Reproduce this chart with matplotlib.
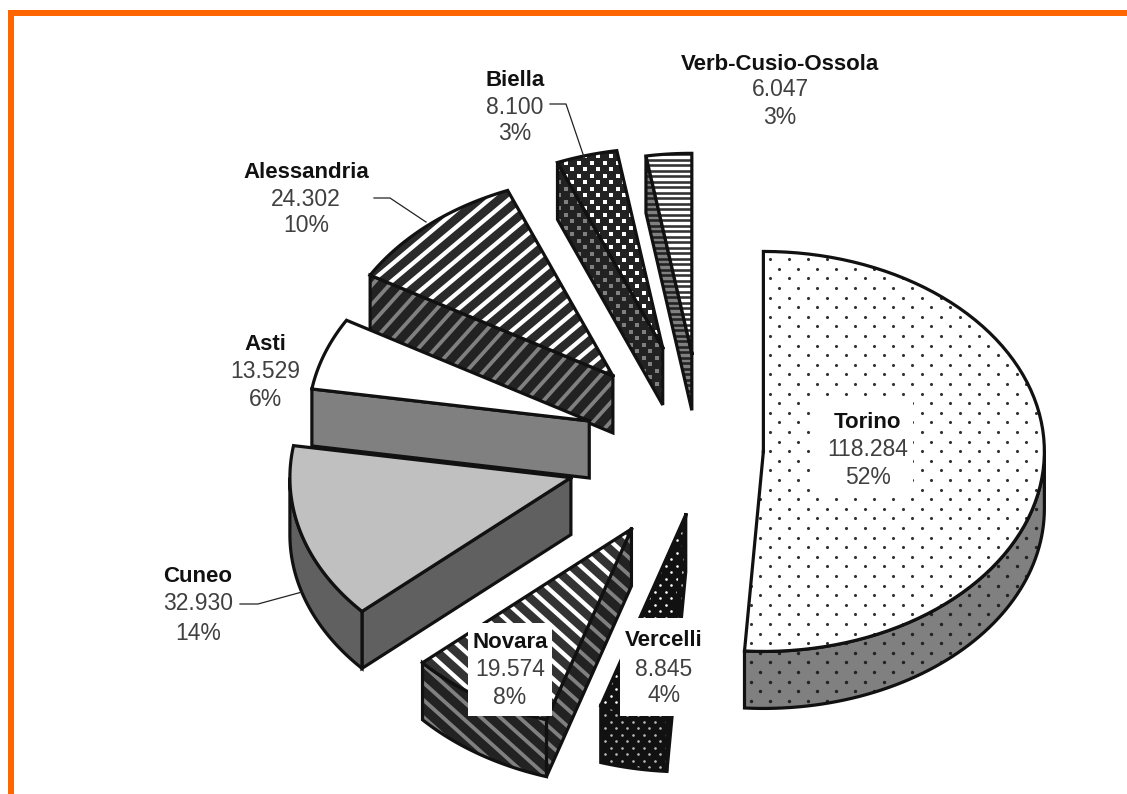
import numpy as np
import matplotlib
matplotlib.use('Agg')
import matplotlib.pyplot as plt
from matplotlib.collections import LineCollection
from matplotlib.patches import Rectangle

province = ['Torino', 'Vercelli', 'Novara', 'Cuneo', 'Asti', 'Alessandria', 'Biella', 'Verb-Cusio-Ossola']
abitanti = [118284, 8845, 19574, 32930, 13529, 24302, 8100, 6047]
valori_txt = ['118.284', '8.845', '19.574', '32.930', '13.529', '24.302', '8.100', '6.047']
percent_txt = ['52%', '4%', '8%', '14%', '6%', '10%', '3%', '3%']
explode = [0.215, 0.33, 0.47, 0.49, 0.43, 0.49, 0.53, 0.485]

# pie geometry, in pixels
cx, cy = 703, 450
rx, ry = 281, 200
depth = 57

plt.rcParams['font.family'] = ['Liberation Sans', 'DejaVu Sans']

W, H = 1127, 794
fig = plt.figure(figsize=(W / 100, H / 100), dpi=100)
ax = fig.add_axes([0, 0, 1, 1])
ax.set_xlim(0, W)
ax.set_ylim(H, 0)
ax.axis('off')


def pt(a, ox, oy):
    t = np.radians(a)
    return ox + rx * np.sin(t), oy - ry * np.cos(t)


def stripes(poly, angle, period, width, color, z):
    # parallel lines over the whole figure, clipped on the polygon
    t = np.radians(angle)
    d = np.array([np.cos(t), -np.sin(t)])
    n = np.array([np.sin(t), np.cos(t)])
    segs = []
    for k in range(-200, 200):
        c = n * k * period
        segs.append([c - d * 2000, c + d * 2000])
    lc = LineCollection(segs, colors=color, linewidths=width * 0.72, capstyle='butt', zorder=z)
    ax.add_collection(lc)
    lc.set_clip_path(poly)


def dots(poly, dx, dy, size, color, marker, z):
    # staggered grid, clipped on the polygon
    xs, ys = [], []
    for j in range(int(H / dy) + 2):
        for i in range(int(W / dx) + 2):
            xs.append(i * dx + (dx / 2 if j % 2 else 0))
            ys.append(j * dy)
    sc = ax.scatter(xs, ys, s=size, c=color, marker=marker, linewidths=0, zorder=z)
    sc.set_clip_path(poly)


def riempi(xs, ys, base, pattern, z):
    poly = ax.fill(xs, ys, facecolor=base, edgecolor='none', zorder=z)[0]
    if pattern:
        pattern[0](poly, *pattern[1:], z + 0.1)
    ax.plot(list(xs) + [xs[0]], list(ys) + [ys[0]], color='#111111', lw=2.3,
            solid_joinstyle='miter', zorder=z + 0.2)


# base colour and pattern of top face and walls
top_style = [
    ('white', (dots, 19, 9.6, 5, '#333333', 'o')),
    ('#111111', (dots, 11, 6.5, 3.5, 'white', 'o')),
    ('white', (stripes, -42, 12.8, 8.5, '#333333')),
    ('#c0c0c0', None),
    ('white', None),
    ('white', (stripes, 40, 12.8, 8.5, '#2a2a2a')),
    ('#222222', (dots, 13, 6.5, 9, 'white', 's')),
    ('white', (stripes, 0, 5.5, 2.6, '#333333')),
]
wall_style = [
    ('#808080', (dots, 19, 9.6, 6, '#222222', 'o')),
    ('#111111', (dots, 11, 6.5, 3.5, '#bbbbbb', 'o')),
    ('#808080', (stripes, -42, 12.8, 9, '#222222')),
    ('#606060', None),
    ('#808080', None),
    ('#808080', (stripes, 48, 12.8, 9, '#222222')),
    ('#222222', (dots, 13, 6.5, 9, '#808080', 's')),
    ('#808080', (stripes, 0, 5.5, 2.6, '#222222')),
]

angoli = np.cumsum([0] + abitanti) / sum(abitanti) * 360

# back slices first, Torino last
ordine = [7, 6, 5, 4, 3, 2, 1, 0]
for z, i in enumerate(ordine):
    a1, a2 = angoli[i], angoli[i + 1]
    mid = np.radians((a1 + a2) / 2)
    ox = cx + explode[i] * rx * np.sin(mid)
    oy = cy - explode[i] * ry * np.cos(mid)
    z0 = 10 + z * 3

    # radial wall, seen when it faces down
    if np.sin(np.radians(a1)) < -1e-6:
        x1, y1 = pt(a1, ox, oy)
        riempi([ox, x1, x1, ox], [oy, y1, y1 + depth, oy + depth], *wall_style[i], z0)

    # outer wall, only the front half of the circle
    lo, hi = max(a1, 90), min(a2, 270)
    if hi > lo:
        aa = np.linspace(lo, hi, 60)
        xa, ya = pt(aa, ox, oy)
        riempi(np.r_[xa, xa[::-1]], np.r_[ya, ya[::-1] + depth], *wall_style[i], z0 + 1)

    aa = np.linspace(a1, a2, 80)
    xa, ya = pt(aa, ox, oy)
    riempi(np.r_[ox, xa], np.r_[oy, ya], *top_style[i], z0 + 2)

# leader lines
ax.plot([550, 566, 585], [104, 104, 160], color='#222222', lw=0.9, zorder=50)
ax.plot([374, 390, 426], [198, 198, 222], color='#222222', lw=0.9, zorder=50)
ax.plot([240, 258, 302], [604, 604, 592], color='#222222', lw=0.9, zorder=50)

# white boxes behind the labels that sit on the slices
ax.add_patch(Rectangle((468, 623), 84, 93, fc='white', ec='none', zorder=60))
ax.add_patch(Rectangle((620, 618), 72, 98, fc='white', ec='none', zorder=60))
ax.add_patch(Rectangle((816, 400), 97, 93, fc='white', ec='none', zorder=60))

lab_x = [868, 664, 510, 198, 265, 306, 515, 780]
lab_y = [[422, 450, 478], [641, 669, 695], [643, 670, 697], [577, 604, 633],
         [345, 372, 399], [172, 199, 226], [80, 107, 133], [64, 90, 117]]
for i, nome in enumerate(province):
    ax.text(lab_x[i], lab_y[i][0], nome, ha='center', va='center', fontsize=16,
            fontweight='bold', color='#111111', zorder=70)
    ax.text(lab_x[i], lab_y[i][1], valori_txt[i], ha='center', va='center', fontsize=16.5,
            color='#404040', zorder=70)
    ax.text(lab_x[i], lab_y[i][2], percent_txt[i], ha='center', va='center', fontsize=16.5,
            color='#404040', zorder=70)

# orange frame, top and left only
ax.add_patch(Rectangle((8, 10), W - 8, 6, fc='#ff6600', ec='none', zorder=80))
ax.add_patch(Rectangle((8, 10), 6, H - 10, fc='#ff6600', ec='none', zorder=80))

fig.savefig('out.png', dpi=100)
